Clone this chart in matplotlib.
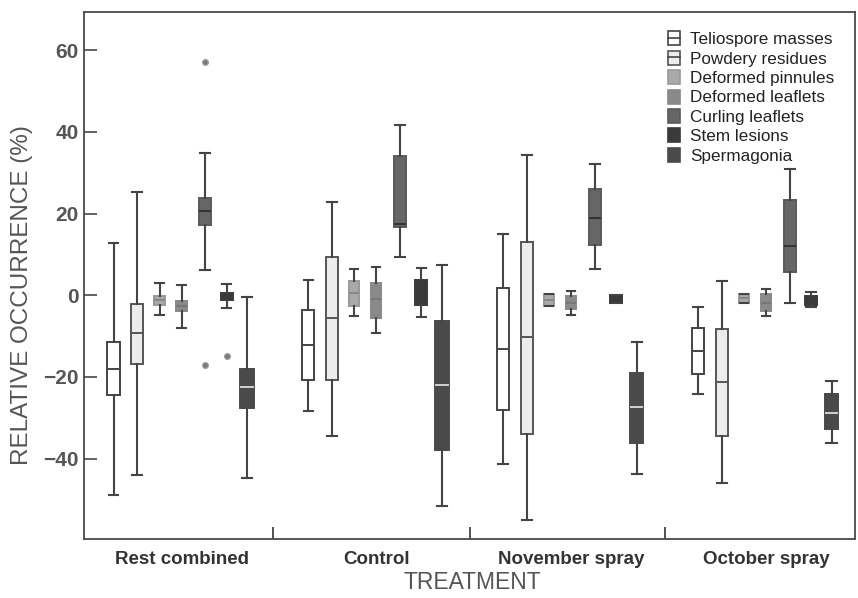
import numpy as np
import matplotlib.pyplot as plt
from matplotlib.patches import Patch
from matplotlib.lines import Line2D

plt.rcParams['font.family'] = ['Liberation Sans', 'DejaVu Sans']

treatments = ['Rest combined', 'Control', 'November spray', 'October spray']
series = ['Teliospore masses', 'Powdery residues', 'Deformed pinnules',
          'Deformed leaflets', 'Curling leaflets', 'Stem lesions', 'Spermagonia']

# each row: whisker low, q1, median, q3, whisker high (one row per treatment)
teliospore = [[-48.9, -24.5, -18.0, -11.4, 12.8],
              [-28.4, -20.8, -12.3, -3.7, 3.8],
              [-41.3, -28.0, -13.1, 1.8, 15.1],
              [-24.3, -19.2, -13.7, -8.0, -2.9]]
powdery = [[-44.0, -16.8, -9.3, -2.1, 25.2],
           [-34.4, -20.8, -5.7, 9.4, 22.9],
           [-55.1, -33.9, -10.3, 13.0, 34.3],
           [-46.0, -34.4, -21.2, -8.4, 3.4]]
pinnules = [[-4.9, -2.5, -1.3, -0.2, 2.9],
            [-5.1, -2.7, 0.6, 3.4, 6.5],
            [-2.6, -2.6, -1.1, 0.4, 0.4],
            [-2.0, -2.0, -0.8, 0.3, 0.3]]
leaflets = [[-8.0, -3.9, -2.7, -1.5, 2.5],
            [-9.2, -5.6, -1.0, 3.0, 7.0],
            [-4.9, -3.5, -1.9, -0.2, 1.0],
            [-5.0, -3.9, -1.8, 0.2, 1.6]]
curling = [[6.1, 17.3, 20.6, 23.7, 34.7],
           [9.3, 16.7, 17.5, 34.1, 41.6],
           [6.3, 12.4, 19.0, 25.9, 32.2],
           [-2.0, 5.6, 12.0, 23.2, 30.8]]
stem = [[-3.1, -1.1, 0.0, 0.6, 2.8],
        [-5.4, -2.5, 0.5, 3.8, 6.7],
        [-1.8, -1.8, -0.9, 0.0, 0.0],
        [-2.9, -2.5, -1.3, -0.2, 0.8]]
spermagonia = [[-44.8, -27.6, -22.5, -18.0, -0.4],
               [-51.7, -37.8, -22.0, -6.4, 7.5],
               [-43.7, -36.2, -27.5, -19.0, -11.4],
               [-36.2, -32.7, -28.8, -24.3, -20.9]]
# outliers: (series index, treatment index, values)
outliers = [(4, 0, [57.0, -17.0]), (5, 0, [-15.0])]

data = [teliospore, powdery, pinnules, leaflets, curling, stem, spermagonia]

faces = ['white', '#ececec', '#a9a9a9', '#8a8a8a', '#666666', '#3a3a3a', '#4a4a4a']
edges = ['#444444', '#555555', '#999999', '#888888', '#5a5a5a', '#3a3a3a', '#4a4a4a']
medcols = ['#444444', '#555555', '#888888', '#777777', '#333333', '#3a3a3a', '#d0d0d0']
offsets = [-0.349, -0.228, -0.113, 0.0, 0.121, 0.231, 0.336]
widths = [0.062, 0.062, 0.052, 0.052, 0.062, 0.062, 0.068]

fig = plt.figure(figsize=(8.58, 5.98), dpi=100)
ax = fig.add_axes([0.098, 0.098, 0.8986, 0.8823])

for k, rows in enumerate(data):
    stats = []
    for g, r in enumerate(rows):
        fl = []
        for s, t, v in outliers:
            if s == k and t == g:
                fl = v
        stats.append(dict(whislo=r[0], q1=r[1], med=r[2], q3=r[3], whishi=r[4], fliers=fl))
    pos = np.arange(len(treatments)) + offsets[k]
    ax.bxp(stats, positions=pos, widths=widths[k], capwidths=widths[k] * 0.8,
           patch_artist=True, manage_ticks=False,
           boxprops=dict(facecolor=faces[k], edgecolor=edges[k], linewidth=1.4),
           whiskerprops=dict(color='#444444', linewidth=1.5),
           capprops=dict(color='#444444', linewidth=1.5),
           medianprops=dict(color=medcols[k], linewidth=1.4),
           flierprops=dict(marker='o', markersize=4, markerfacecolor='#777777',
                           markeredgecolor='#999999'))

ax.set_xlim(-0.50, 3.456)
ax.set_ylim(-59.8, 69.4)

ax.set_yticks([-40, -20, 0, 20, 40, 60])
ax.tick_params(axis='y', direction='in', length=9, width=1.3, color='#555555',
               pad=4, labelsize=15, labelcolor='#555555')
for lab in ax.get_yticklabels():
    lab.set_fontweight('bold')

ax.set_xticks(range(len(treatments)))
ax.set_xticklabels(treatments, fontsize=13.5, fontweight='bold', color='#333333')
ax.tick_params(axis='x', which='major', length=0, pad=8)
ax.set_xticks([0.47, 1.48, 2.48], minor=True)
ax.tick_params(axis='x', which='minor', direction='in', length=9, width=1.3, color='#444444')

for sp in ax.spines.values():
    sp.set_color('#4a4a4a')
    sp.set_linewidth(1.3)

fig.text(0.026, 0.507, 'RELATIVE OCCURRENCE (%)', rotation=90, ha='center', va='center',
         fontsize=17.5, color='#555555')
fig.text(0.55, 0.026, 'TREATMENT', ha='center', va='center', fontsize=16.5, color='#555555')

handles = []
for k in range(len(series)):
    p = Patch(facecolor=faces[k], edgecolor=edges[k], linewidth=1.2)
    if k < 2:
        handles.append((p, Line2D([], [], color='#444444', linewidth=1.2)))
    else:
        handles.append(p)
ax.legend(handles, series, loc='upper left', bbox_to_anchor=(0.757, 0.963),
          frameon=False, fontsize=12.3, labelspacing=0.2, handlelength=0.7,
          handleheight=0.9, handletextpad=0.6, borderpad=0, borderaxespad=0,
          labelcolor='#222222')

fig.savefig('out.png', dpi=100)
